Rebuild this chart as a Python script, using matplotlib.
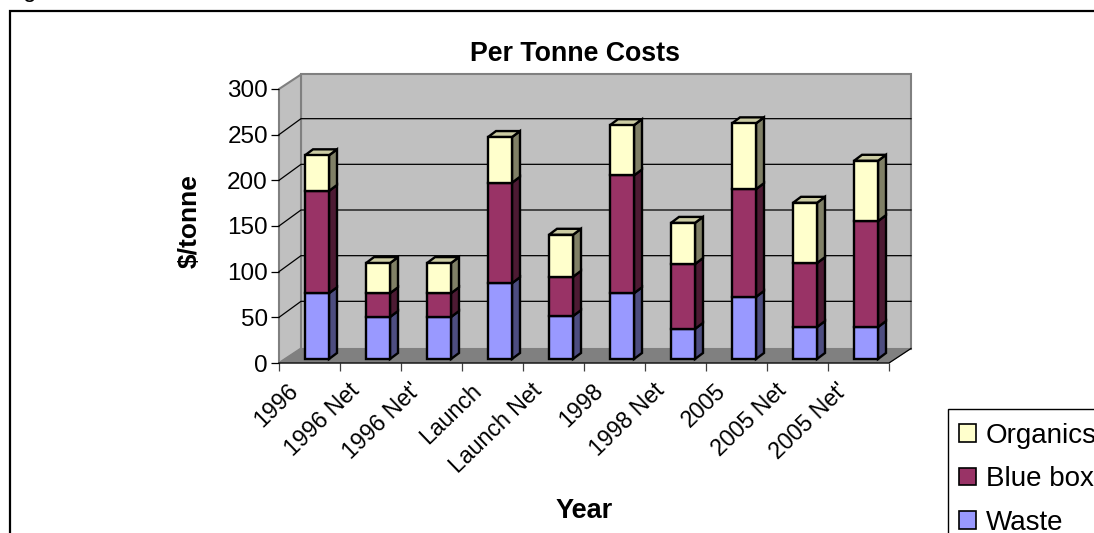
import matplotlib
matplotlib.use("Agg")
import matplotlib.pyplot as plt
from matplotlib.patches import Polygon, Rectangle

# Data
years = ["1996", "1996 Net", "1996 Net'", "Launch", "Launch Net",
         "1998", "1998 Net", "2005", "2005 Net", "2005 Net'"]
waste = [72, 46, 46, 83, 47, 72, 33, 68, 35, 35]
blue_box = [112, 26, 26, 110, 43, 129, 71, 118, 70, 116]
organics = [39, 33, 33, 50, 46, 55, 45, 72, 66, 66]
yticks = [0, 50, 100, 150, 200, 250, 300]

W, H = 1094, 533
plt.rcParams['font.family'] = ['Liberation Sans', 'DejaVu Sans']
FS = 17.5

# Plot box in pixels (front plane of the 3D frame)
x0, x1, y0, y1 = 279, 889, 363, 89
cat = (x1 - x0) / len(years)
val = (y0 - y1) / 300

def dx(px):
    return px / cat

def dy(px):
    return px / val

fig = plt.figure(figsize=(W / 100, H / 100), dpi=100)
ax = fig.add_axes([x0 / W, 1 - y0 / H, (x1 - x0) / W, (y0 - y1) / H])
ax.set_xlim(0, len(years))
ax.set_ylim(0, 300)
ax.patch.set_visible(False)
for s in ax.spines.values():
    s.set_visible(False)

depth_x, depth_y = dx(22), dy(14.5)
grid_y = dy(16)
nx = len(years)

# walls and floor
wall = "#C0C0C0"
edge = "#808080"
ax.add_patch(Polygon([(depth_x, depth_y), (nx + depth_x, depth_y), (nx + depth_x, 300 + depth_y), (depth_x, 300 + depth_y)],
                     fc=wall, ec=edge, lw=1.5, clip_on=False, zorder=1))
ax.add_patch(Polygon([(0, 0), (depth_x, depth_y), (depth_x, 300 + depth_y), (0, 300)],
                     fc=wall, ec=edge, lw=1.5, clip_on=False, zorder=1))
ax.add_patch(Polygon([(0, 0), (nx, 0), (nx + depth_x, depth_y), (depth_x, depth_y)],
                     fc=edge, ec=edge, lw=0.5, clip_on=False, zorder=1))

# gridlines run along the side wall and across the back wall
for v in yticks[1:-1]:
    ax.plot([0, depth_x, nx + depth_x], [v, v + grid_y, v + grid_y], color="black", lw=0.9, clip_on=False, zorder=2)
ax.plot([0, nx, nx + depth_x], [0, 0, depth_y], color="black", lw=0.9, clip_on=False, zorder=3)

# stacked bars
series = [(waste, "#9999FF", "#4D4D80", "#7F7FCC"),
          (blue_box, "#993366", "#4D1A33", "#7A2952"),
          (organics, "#FFFFCC", "#808066", "#CCCCA3")]
bar_left = dx(26)
bar_w = dx(24)
side_x, side_y = dx(8), dy(6)
lift = dy(4)
lw_bar = 1.7
for i in range(nx):
    bottom = lift
    left = i + bar_left
    for k, (vals, front, side, top) in enumerate(series):
        v = vals[i]
        r = left + bar_w
        ax.add_patch(Polygon([(r, bottom), (r + side_x, bottom + side_y), (r + side_x, bottom + v + side_y), (r, bottom + v)],
                             fc=side, ec="black", lw=lw_bar, clip_on=False, zorder=4))
        if k == len(series) - 1:
            ax.add_patch(Polygon([(left, bottom + v), (r, bottom + v), (r + side_x, bottom + v + side_y), (left + side_x, bottom + v + side_y)],
                                 fc=top, ec="black", lw=lw_bar, clip_on=False, zorder=4))
        ax.bar(left, v, width=bar_w, bottom=bottom, align="edge", color=front, edgecolor="black",
               linewidth=lw_bar, clip_on=False, zorder=5)
        bottom += v

# axes
ax.set_yticks(yticks)
ax.set_xticks(range(nx + 1))
ax.set_xticklabels([])
ax.tick_params(axis="y", length=6, width=0.9, labelsize=FS, pad=2, color="black")
ax.tick_params(axis="x", length=6, width=0.9, color="#404040")
for i, name in enumerate(years):
    ax.annotate(name, xy=(i, 0), xytext=(8, -16), textcoords="offset pixels", rotation=44,
                rotation_mode="anchor", ha="right", va="top", fontsize=16.7, annotation_clip=False)

fig.text(575 / W, 1 - 54 / H, "Per Tonne Costs", fontsize=19.3, fontweight="bold", ha="center", va="center")
fig.text(190 / W, 1 - 221 / H, "$/tonne", fontsize=19, fontweight="bold", rotation=90, ha="center", va="center", parse_math=False)
fig.text(584 / W, 1 - 511 / H, "Year", fontsize=19.5, fontweight="bold", ha="center", va="center")

# caption cut off by the top edge, only its descender shows
fig.text(3 / W, 1 + 3 / H, "Figure", fontsize=17.3, ha="left", va="baseline")

# chart border, open past the right and bottom edges
fig.add_artist(Rectangle((9.5 / W, -0.1), 1.2, 1.1 - 11 / H, transform=fig.transFigure, fc="none", ec="black", lw=1.6))

# legend frame also runs off the page
fig.add_artist(Rectangle((948 / W, -0.1), 0.2, 0.1 + 1 - 409 / H, transform=fig.transFigure, fc="white", ec="black", lw=1))
handles = [Rectangle((0, 0), 1, 1, fc=c, ec="black", lw=1.2) for c in ("#FFFFCC", "#993366", "#9999FF")]
fig.legend(handles, ["Organics", "Blue box", "Waste"], loc="upper left", bbox_to_anchor=(948 / W, 1 - 412 / H),
           fontsize=20, frameon=False, borderpad=0.38,
           labelspacing=0.64, handlelength=0.61, handleheight=0.61, handletextpad=0.37, borderaxespad=0)

fig.savefig("out.png", dpi=100)
